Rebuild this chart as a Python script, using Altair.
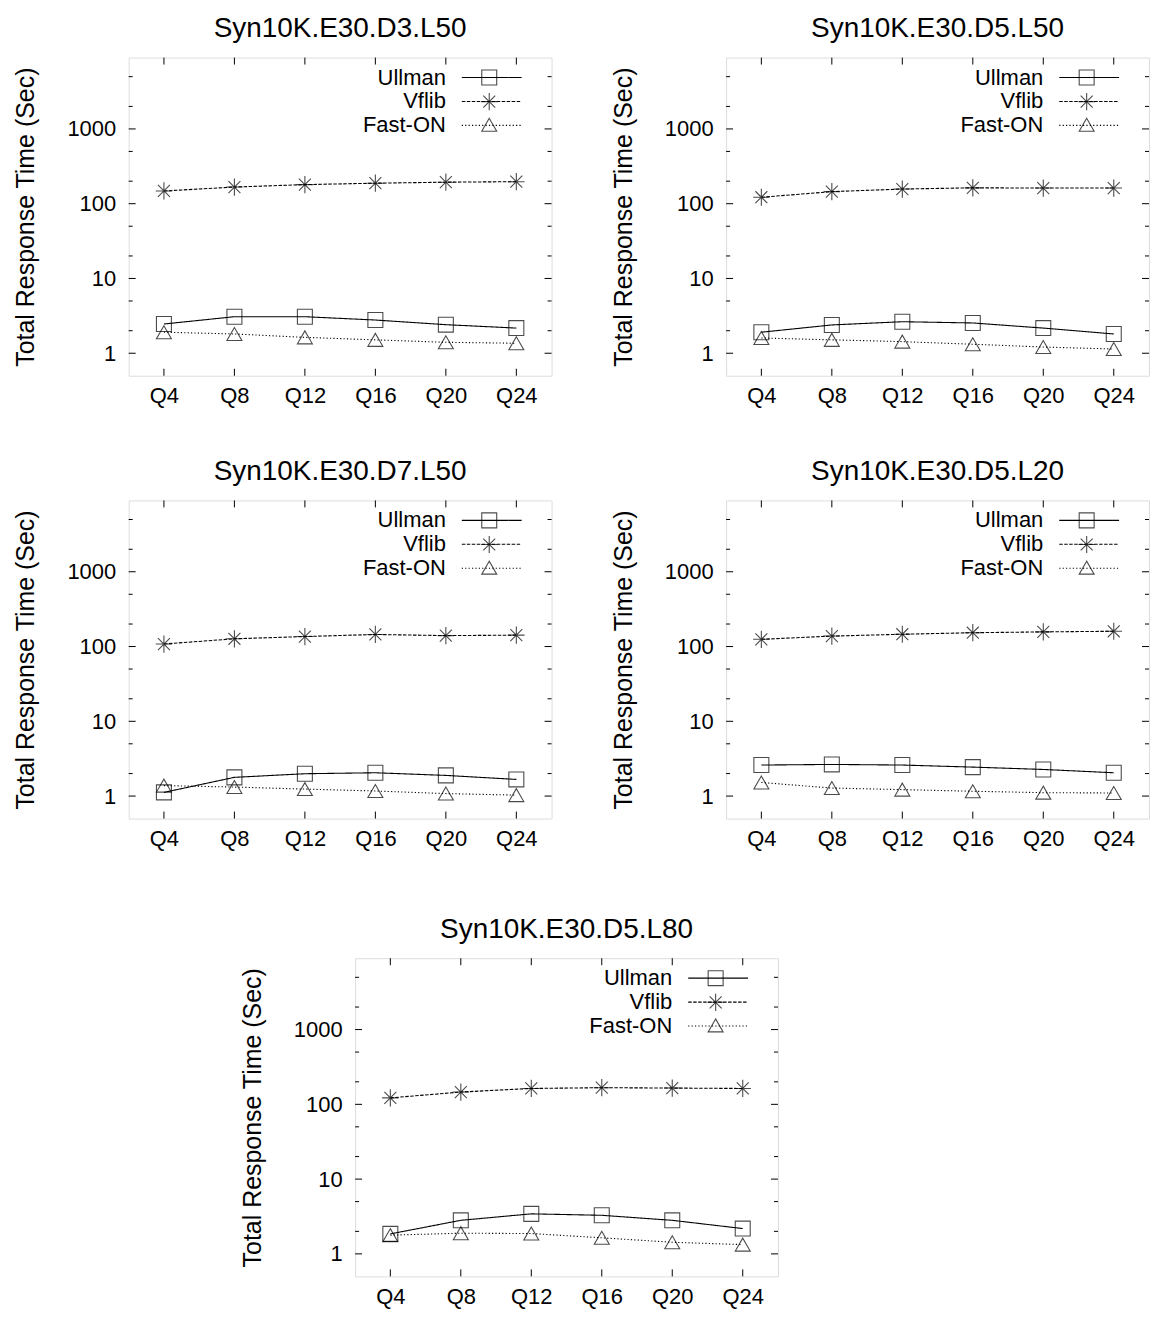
import altair as alt
import pandas as pd

queries = ["Q4", "Q8", "Q12", "Q16", "Q20", "Q24"]
series = ["Ullman", "Vflib", "Fast-ON"]

titles = [
    "Syn10K.E30.D3.L50",
    "Syn10K.E30.D5.L50",
    "Syn10K.E30.D7.L50",
    "Syn10K.E30.D5.L20",
    "Syn10K.E30.D5.L80",
]

ullman_d3_l50 = [2.46, 3.08, 3.08, 2.78, 2.41, 2.17]
vflib_d3_l50 = [148, 167, 180, 188, 194, 197]
faston_d3_l50 = [1.91, 1.81, 1.63, 1.51, 1.40, 1.36]

ullman_d5_l50 = [1.91, 2.39, 2.64, 2.54, 2.17, 1.81]
vflib_d5_l50 = [122, 145, 157, 163, 162, 162]
faston_d5_l50 = [1.60, 1.51, 1.43, 1.32, 1.21, 1.14]

ullman_d7_l50 = [1.12, 1.78, 1.99, 2.05, 1.89, 1.67]
vflib_d7_l50 = [108, 127, 136, 145, 140, 142]
faston_d7_l50 = [1.38, 1.32, 1.24, 1.17, 1.08, 1.03]

ullman_d5_l20 = [2.60, 2.65, 2.60, 2.44, 2.27, 2.05]
vflib_d5_l20 = [125, 138, 146, 153, 157, 160]
faston_d5_l20 = [1.52, 1.28, 1.22, 1.16, 1.11, 1.10]

ullman_d5_l80 = [1.85, 2.81, 3.43, 3.28, 2.81, 2.18]
vflib_d5_l80 = [122, 146, 163, 167, 165, 163]
faston_d5_l80 = [1.78, 1.89, 1.87, 1.64, 1.43, 1.33]

y_major = [1, 10, 100, 1000]
y_minor = [2, 5, 20, 50, 200, 500, 2000, 5000]
y_domain = [0.5, 9000]

ASTERISK = "M-1.1,0L1.1,0M0,-1.15L0,1.15M-0.8,-0.8L0.8,0.8M-0.8,0.8L0.8,-0.8"
LINE_SYMBOL = "M-10,0L10,0"

FONT = "Liberation Sans"
W, H = 424, 319
MAJ, MIN = 7, 4


def panel(title, ull, vf, fo):
    df = pd.DataFrame({
        "query": queries * 3,
        "series": [series[0]] * 6 + [series[1]] * 6 + [series[2]] * 6,
        "time": ull + vf + fo,
    })
    df["marker"] = df["series"]

    xscale = alt.Scale(type="point", padding=0.5)
    yscale = alt.Scale(type="log", domain=y_domain)
    xaxis = alt.Axis(title=None, ticks=False, domain=False, grid=False, labelAngle=0,
                     labelFontSize=22, labelPadding=10)
    yaxis = alt.Axis(title="Total Response Time (Sec)", values=y_major, format="d",
                     ticks=False, domain=False, grid=False, labelFontSize=22,
                     titleFontSize=25, titleFontWeight="normal", labelPadding=13,
                     titlePadding=28)
    X = alt.X("query:N", sort=queries, scale=xscale, axis=xaxis)
    Y = alt.Y("time:Q", scale=yscale, axis=yaxis)

    base = alt.Chart(df)
    lines = base.mark_line(color="black", strokeWidth=1.1).encode(
        x=X, y=Y,
        strokeDash=alt.StrokeDash(
            "series:N", sort=series,
            scale=alt.Scale(domain=series, range=[[1, 0], [3.5, 1.5], [1.2, 2.2]]),
            legend=alt.Legend(
                title=None, orient="none", legendX=353, legendY=9, padding=0,
                labelAlign="right", labelOffset={"expr": "-57"}, labelFontSize=22,
                labelFont=FONT,
                symbolType=LINE_SYMBOL, symbolSize=36, symbolStrokeColor="black",
                symbolStrokeWidth=1.1, rowPadding=2,
            ),
        ),
    )
    points = base.mark_point(filled=False, color="black", size=225, strokeWidth=1.1).encode(
        x=X, y=Y,
        shape=alt.Shape(
            "marker:N", sort=series,
            scale=alt.Scale(domain=series, range=["square", ASTERISK, "triangle-up"]),
            legend=alt.Legend(
                title=None, orient="none", legendX=353, legendY=11.5, padding=0,
                labelExpr="''", labelFontSize=0, labelOffset=0,
                symbolSize=225, symbolStrokeColor="black", symbolFillColor="transparent",
                symbolStrokeWidth=1.1, rowPadding=2.2,
            ),
        ),
    )

    ymaj_df = pd.DataFrame({"time": y_major})
    ymin_df = pd.DataFrame({"time": y_minor})
    xt_df = pd.DataFrame({"query": queries})

    def yticks(d, x0, x1):
        return alt.Chart(d).mark_rule(color="black", strokeWidth=1).encode(
            y=Y, x=alt.value(x0), x2=alt.value(x1))

    def xticks(y0, y1):
        return alt.Chart(xt_df).mark_rule(color="black", strokeWidth=1).encode(
            x=X, y=alt.value(y0), y2=alt.value(y1))

    layers = [
        yticks(ymaj_df, 0, MAJ), yticks(ymin_df, 0, MIN),
        yticks(ymaj_df, W - MAJ, W), yticks(ymin_df, W - MIN, W),
        xticks(H - MAJ, H), xticks(0, MAJ),
        lines, points,
    ]
    return alt.layer(*layers).properties(
        width=W, height=H,
        title=alt.TitleParams(text=title, fontSize=28, font=FONT, fontWeight="normal",
                              anchor="middle", offset=14, color="black"),
    ).resolve_legend(strokeDash="independent", shape="independent")


p = [
    panel(titles[0], ullman_d3_l50, vflib_d3_l50, faston_d3_l50),
    panel(titles[1], ullman_d5_l50, vflib_d5_l50, faston_d5_l50),
    panel(titles[2], ullman_d7_l50, vflib_d7_l50, faston_d7_l50),
    panel(titles[3], ullman_d5_l20, vflib_d5_l20, faston_d5_l20),
    panel(titles[4], ullman_d5_l80, vflib_d5_l80, faston_d5_l80),
]

spacer = alt.Chart(pd.DataFrame({"s": [0]})).mark_point(opacity=0).properties(
    width=90, height=10, view=alt.ViewBackground(stroke="transparent"))

row1 = alt.hconcat(p[0], p[1], spacing=58)
row2 = alt.hconcat(p[2], p[3], spacing=58)
row3 = alt.hconcat(spacer, p[4], spacing=20)

top = alt.vconcat(row1, row2, spacing=50)
chart = alt.vconcat(top, row3, spacing=65).resolve_scale(
    strokeDash="independent", shape="independent"
).resolve_legend(
    strokeDash="independent", shape="independent"
).properties(
    padding={"left": 5, "right": 0, "top": 5, "bottom": 0}
).configure_view(
    stroke="black", strokeWidth=1.3
).configure_axis(
    labelFont=FONT, titleFont=FONT, labelColor="black", titleColor="black",
    titleFontWeight="normal"
).configure(background="white")

chart.save("out.html", embed_options={"renderer": "svg", "actions": False})
